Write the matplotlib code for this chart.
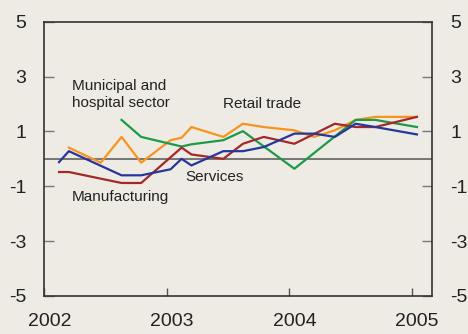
import matplotlib.pyplot as plt
from matplotlib.transforms import ScaledTranslation

plt.rcParams['font.family'] = ['Liberation Sans', 'DejaVu Sans']
plt.rcParams['axes.unicode_minus'] = False

# survey dates (fractional years) and values, per sector
services_x = [2002.12, 2002.20, 2002.63, 2002.79, 2003.03, 2003.12, 2003.20,
              2003.46, 2003.62, 2003.79, 2004.04, 2004.20, 2004.37, 2004.54,
              2004.70, 2005.04]
services_y = [-0.12, 0.28, -0.60, -0.60, -0.38, 0.00, -0.24,
              0.28, 0.28, 0.43, 0.92, 0.92, 0.80, 1.28,
              1.16, 0.89]

retail_x = [2002.20, 2002.46, 2002.63, 2002.79, 2003.03, 2003.12, 2003.20,
            2003.46, 2003.62, 2003.79, 2004.04, 2004.20, 2004.37, 2004.54,
            2004.70, 2005.04]
retail_y = [0.41, -0.14, 0.80, -0.14, 0.68, 0.77, 1.16,
            0.80, 1.28, 1.16, 1.04, 0.80, 1.04, 1.42,
            1.53, 1.53]

manuf_x = [2002.12, 2002.20, 2002.63, 2002.79, 2003.12, 2003.20, 2003.46,
           2003.62, 2003.79, 2004.04, 2004.37, 2004.54, 2004.70, 2005.04]
manuf_y = [-0.48, -0.48, -0.88, -0.88, 0.41, 0.16, 0.00,
           0.55, 0.80, 0.55, 1.28, 1.16, 1.16, 1.53]

munic_x = [2002.63, 2002.79, 2003.12, 2003.20, 2003.46, 2003.62, 2004.04,
           2004.54, 2004.70, 2005.04]
munic_y = [1.42, 0.80, 0.45, 0.53, 0.68, 1.01, -0.36,
           1.42, 1.42, 1.16]

year_ticks = [2002, 2003, 2004, 2005]
value_ticks = [5, 3, 1, -1, -3, -5]

bg = '#eeebe5'
fig = plt.figure(figsize=(4.68, 3.34), dpi=100, facecolor=bg)
ax = fig.add_axes([0.0947, 0.1138, 0.829, 0.8212], facecolor=bg)

ax.axhline(0, color='#555555', lw=1.1, zorder=1)

ax.plot(retail_x, retail_y, color='#f7941d', lw=1.6)
ax.plot(munic_x, munic_y, color='#1d9a48', lw=1.6)
ax.plot(manuf_x, manuf_y, color='#a3282a', lw=1.6)
ax.plot(services_x, services_y, color='#26379a', lw=1.6)

ax.set_xlim(2002, 2005.165)
ax.set_ylim(-5, 5)
ax.set_xticks(year_ticks)
ax.set_yticks(value_ticks)

ax.tick_params(axis='y', direction='in', length=7, width=1, color='#777777',
               labelsize=14, pad=13, left=True, right=True,
               labelleft=True, labelright=True, labelcolor='#222222')
ax.tick_params(axis='x', direction='in', length=6, width=1, color='#555555',
               labelsize=14, pad=12, labelcolor='#222222')
# year labels sit slightly right of their ticks
shift = ScaledTranslation(5 / 100, 0, fig.dpi_scale_trans)
for lbl in ax.get_xticklabels():
    lbl.set_transform(lbl.get_transform() + shift)

for s in ax.spines.values():
    s.set_color('#333333')
    s.set_linewidth(1.2)

txt = dict(fontsize=11, color='#222222', ha='left', va='baseline')
ax.text(2002.223, 2.50, 'Municipal and', **txt)
ax.text(2002.223, 1.88, 'hospital sector', **txt)
ax.text(2003.458, 1.85, 'Retail trade', **txt)
ax.text(2003.153, -0.82, 'Services', **txt)
ax.text(2002.223, -1.55, 'Manufacturing', **txt)

fig.savefig('out.png', dpi=100, facecolor=bg)
